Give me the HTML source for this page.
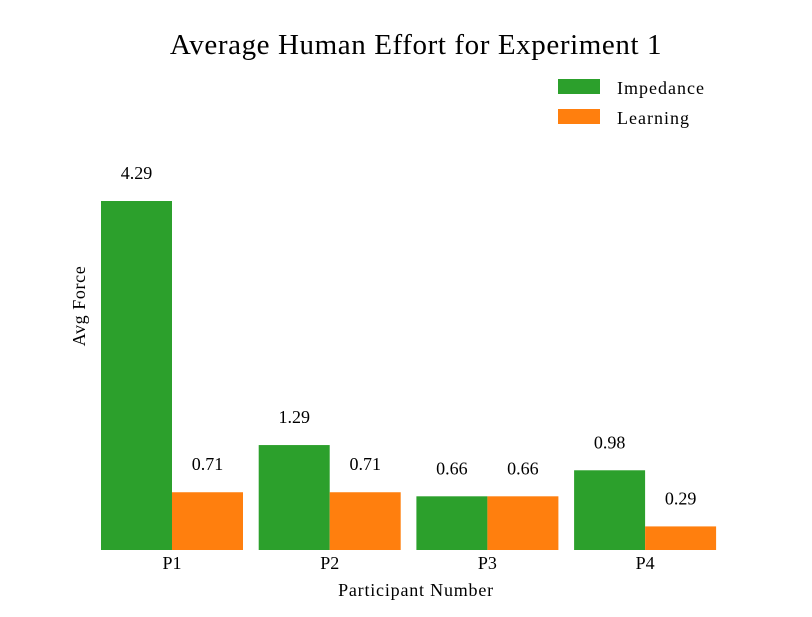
<!DOCTYPE html>
<html><head><meta charset="utf-8"><style>
html,body{margin:0;padding:0;background:#fff;}
svg text{font-family:"Liberation Serif",serif;fill:#000;}
</style></head><body>
<svg id="chart" width="812" height="612" xmlns="http://www.w3.org/2000/svg">
<rect width="812" height="612" fill="#fff"/>
<text x="416" y="54" font-size="29" letter-spacing="0.6" text-anchor="middle">Average Human Effort for Experiment 1</text>
<g>
<rect x="558" y="79" width="42" height="15" fill="#2ca02c"/>
<text x="617" y="94" font-size="18" letter-spacing="1">Impedance</text>
<rect x="558" y="109" width="42" height="15" fill="#ff7f0e"/>
<text x="617" y="124" font-size="18" letter-spacing="1">Learning</text>
</g>
<text transform="translate(85,306) rotate(-90)" font-size="18" letter-spacing="0.6" text-anchor="middle">Avg Force</text>
<text x="416" y="596" font-size="18" letter-spacing="0.8" text-anchor="middle">Participant Number</text>
<g id="bars"></g>
</svg>
<script>
const categories = ["P1","P2","P3","P4"];
const impedance = [4.29,1.29,0.66,0.98];
const learning = [0.71,0.71,0.66,0.29];
const valueLabels1 = ["4.29","1.29","0.66","0.98"];
const valueLabels2 = ["0.71","0.71","0.66","0.29"];

const NS="http://www.w3.org/2000/svg";
const g=document.getElementById('bars');
const baseY=550, pxPerUnit=349/4.29;
const x0=172, step=157.7, bw=71;
function y(v){return baseY - v*pxPerUnit;}
function xc(i){return x0 + i*step;}
function bar(xl,v,color,name,label){
  const r=document.createElementNS(NS,'rect');
  r.setAttribute('x',xl);r.setAttribute('y',y(v));
  r.setAttribute('width',bw);r.setAttribute('height',baseY-y(v));
  r.setAttribute('fill',color);
  
  
  g.appendChild(r);
  const t=document.createElementNS(NS,'text');
  t.setAttribute('x',xl+bw/2);t.setAttribute('y',y(v)-22);
  t.setAttribute('font-size','18');t.setAttribute('text-anchor','middle');
  t.textContent=label;
  
  
  g.appendChild(t);
}
categories.forEach((c,i)=>{
  bar(xc(i)-bw,impedance[i],'#2ca02c','bar-impedance-'+c.toLowerCase(),valueLabels1[i]);
  bar(xc(i),learning[i],'#ff7f0e','bar-learning-'+c.toLowerCase(),valueLabels2[i]);
  const t=document.createElementNS(NS,'text');
  t.setAttribute('x',xc(i));t.setAttribute('y',569);
  t.setAttribute('font-size','18');t.setAttribute('text-anchor','middle');
  t.textContent=c;
  
  
  g.appendChild(t);
});
</script>
</body></html>
